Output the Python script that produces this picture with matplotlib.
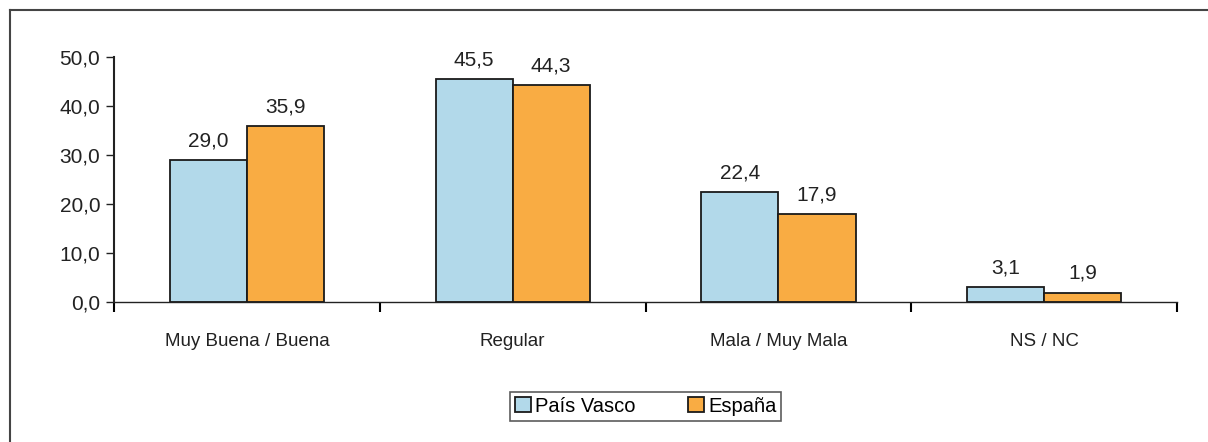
import numpy as np
import matplotlib.pyplot as plt
from matplotlib.lines import Line2D
from matplotlib.ticker import FuncFormatter

categorias = ['Muy Buena / Buena', 'Regular', 'Mala / Muy Mala', 'NS / NC']
pais_vasco = [29.0, 45.5, 22.4, 3.1]
espana = [35.9, 44.3, 17.9, 1.9]
series = ['País Vasco', 'España']

plt.rcParams['font.family'] = ['Liberation Sans', 'DejaVu Sans']

fig = plt.figure(figsize=(12.08, 4.42), dpi=100)
ax = fig.add_axes([0.0944, 0.3167, 0.88, 0.5543])

x = np.arange(len(categorias))
w = 0.29
b1 = ax.bar(x - w / 2, pais_vasco, w, color='#B2D9EA', edgecolor='#1a1a1a', linewidth=1.3, label=series[0])
b2 = ax.bar(x + w / 2, espana, w, color='#F9AC43', edgecolor='#1a1a1a', linewidth=1.3, label=series[1])

def coma(v, pos=None):
    return f'{v:.1f}'.replace('.', ',')

for bars in (b1, b2):
    for r in bars:
        ax.annotate(coma(r.get_height()), (r.get_x() + r.get_width() / 2, r.get_height()),
                    xytext=(0, 7), textcoords='offset points', ha='center', va='bottom',
                    fontsize=15, color='#222222')

ax.set_xlim(-0.5, len(categorias) - 0.5)
ax.set_ylim(0, 50)
ax.set_yticks(np.arange(0, 51, 10))
ax.yaxis.set_major_formatter(FuncFormatter(coma))
ax.tick_params(axis='y', labelsize=15, length=6, width=1, colors='#222222', pad=4)

# categorías: etiquetas centradas, marcas en los límites
ax.set_xticks(x)
ax.set_xticklabels(categorias, fontsize=13.5, color='#222222')
ax.tick_params(axis='x', which='major', length=0, pad=22)
ax.set_xticks(np.arange(-0.5, len(categorias)), minor=True)
ax.tick_params(axis='x', which='minor', length=7, width=1.5, direction='out')

for s in ('top', 'right'):
    ax.spines[s].set_visible(False)
ax.spines['left'].set_linewidth(1.5)
ax.spines['bottom'].set_linewidth(1)
ax.spines['left'].set_color('#222222')
ax.spines['bottom'].set_color('#222222')

leg = ax.legend(loc='upper center', bbox_to_anchor=(0.5, -0.325), ncol=2, frameon=True,
                fancybox=False, shadow=False, fontsize=14.5, handlelength=0.8, handleheight=0.8,
                handletextpad=0.2, columnspacing=2.6, borderpad=0.25, edgecolor='#333333')
leg.get_frame().set_linewidth(1.2)

# marco exterior (solo izquierda y arriba visibles)
fig.add_artist(Line2D([10 / 1208, 10 / 1208], [0, 1 - 10 / 442], transform=fig.transFigure,
                      color='#444444', linewidth=1.5))
fig.add_artist(Line2D([10 / 1208, 1], [1 - 10 / 442, 1 - 10 / 442], transform=fig.transFigure,
                      color='#444444', linewidth=1.5))

fig.savefig('out.png', dpi=100)
